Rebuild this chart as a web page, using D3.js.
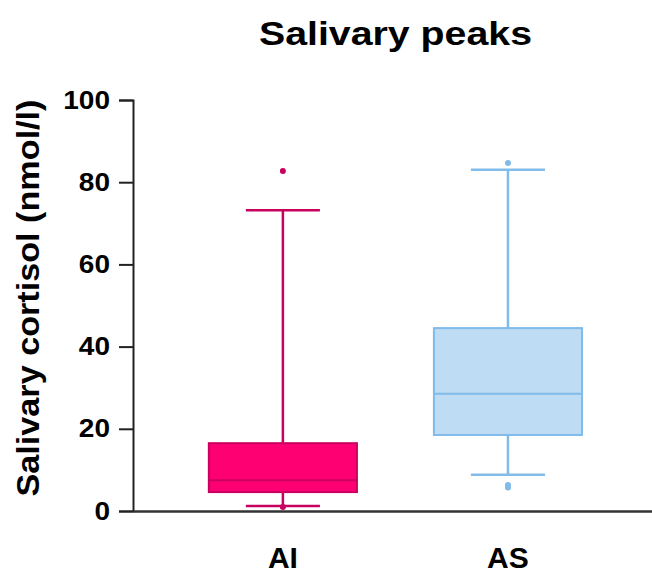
<!DOCTYPE html>
<html>
<head>
<meta charset="utf-8">
<script src="https://cdn.jsdelivr.net/npm/d3@7/dist/d3.min.js"></script>
<style>
  html, body { margin: 0; padding: 0; background: #fff; }
  svg { display: block; font-family: "Liberation Sans", Arial, sans-serif; }
</style>
</head>
<body>
<svg id="chart" width="652" height="576"></svg>
<script>
// ---- data ----
const categories = ["AI", "AS"];
const q1Values = [4.6, 18.5];
const medianValues = [7.5, 28.5];
const q3Values = [16.5, 44.5];
const whiskerLow = [1.2, 8.8];
const whiskerHigh = [73.2, 83.0];
const outliersAI = [82.7, 1.0];
const outliersAS = [84.7, 6.3, 5.7];
const yTicks = [0, 20, 40, 60, 80, 100];
const title = "Salivary peaks";
const yTitle = "Salivary cortisol (nmol/l)";

const fills = ["#ff0073", "#bfdcf5"];
const strokes = ["#c8005f", "#80bbea"];
const outliers = [outliersAI, outliersAS];

const svg = d3.select("#chart");
const W = 652, H = 576;
const m = { left: 133, right: 0, top: 100, bottom: 65 };

const y = d3.scaleLinear().domain([0, 100]).range([H - m.bottom, m.top]);
const x = d3.scaleBand().domain(categories).range([m.left, W - m.right])
  .paddingInner(0.342).paddingOuter(0.324).align(0.52);

// title
svg.append("text")
  .attr("x", 395.5).attr("y", 45)
  .attr("text-anchor", "middle")
  .attr("font-size", 33).attr("font-weight", "bold")
  .attr("textLength", 273).attr("lengthAdjust", "spacingAndGlyphs")
  .text(title);

// y axis
const yAxis = d3.axisLeft(y).tickValues(yTicks).tickSize(14).tickPadding(9).tickFormat(d3.format("d"));
const gy = svg.append("g").attr("transform", `translate(${m.left},0)`).call(yAxis);
gy.select(".domain").attr("stroke", "#222").attr("stroke-width", 2);
gy.selectAll(".tick line").attr("stroke", "#222").attr("stroke-width", 2);
gy.selectAll(".tick text")
  .attr("font-size", 25).attr("font-weight", "bold").attr("fill", "#000")
  .attr("font-family", "'Liberation Sans', Arial, sans-serif")
  .attr("transform", "scale(1.12,1)")
  .attr("x", function() { return (-23) / 1.12; });

// boxes
const g = svg.append("g");
categories.forEach((c, i) => {
  const cx = x(c) + x.bandwidth() / 2;
  const bw = x.bandwidth();
  const capW = bw / 2;
  const grp = g.append("g");
  grp.append("line").attr("x1", cx).attr("x2", cx)
    .attr("y1", y(q3Values[i])).attr("y2", y(whiskerHigh[i]))
    .attr("stroke", strokes[i]).attr("stroke-width", 2.5);
  grp.append("line").attr("x1", cx).attr("x2", cx)
    .attr("y1", y(q1Values[i])).attr("y2", y(whiskerLow[i]))
    .attr("stroke", strokes[i]).attr("stroke-width", 2.5);
  [whiskerHigh[i], whiskerLow[i]].forEach(v => {
    grp.append("line").attr("x1", cx - capW / 2).attr("x2", cx + capW / 2)
      .attr("y1", y(v)).attr("y2", y(v))
      .attr("stroke", strokes[i]).attr("stroke-width", 2.5);
  });
  grp.append("rect").attr("x", x(c)).attr("width", bw)
    .attr("y", y(q3Values[i])).attr("height", y(q1Values[i]) - y(q3Values[i]))
    .attr("fill", fills[i]).attr("stroke", strokes[i]).attr("stroke-width", 2);
  grp.append("line").attr("x1", x(c)).attr("x2", x(c) + bw)
    .attr("y1", y(medianValues[i])).attr("y2", y(medianValues[i]))
    .attr("stroke", strokes[i]).attr("stroke-width", 2);
  outliers[i].forEach(v => {
    grp.append("circle").attr("cx", cx).attr("cy", y(v)).attr("r", 3)
      .attr("fill", strokes[i]);
  });
});

// x axis
const xAxis = d3.axisBottom(x).tickSize(0).tickPadding(0);
const gx = svg.append("g").attr("transform", `translate(0,${y(0)})`).call(xAxis);
gx.select(".domain").attr("stroke", "#333").attr("stroke-width", 2.5);
gx.selectAll(".tick text")
  .attr("font-size", 30).attr("font-weight", "bold").attr("fill", "#000")
  .attr("font-family", "'Liberation Sans', Arial, sans-serif")
  .attr("dy", 0).attr("y", 57);

// y title
svg.append("text")
  .attr("transform", `translate(39,298) rotate(-90)`)
  .attr("text-anchor", "middle")
  .attr("font-size", 32).attr("font-weight", "bold")
  .attr("textLength", 397).attr("lengthAdjust", "spacingAndGlyphs")
  .text(yTitle);
</script>
</body>
</html>
